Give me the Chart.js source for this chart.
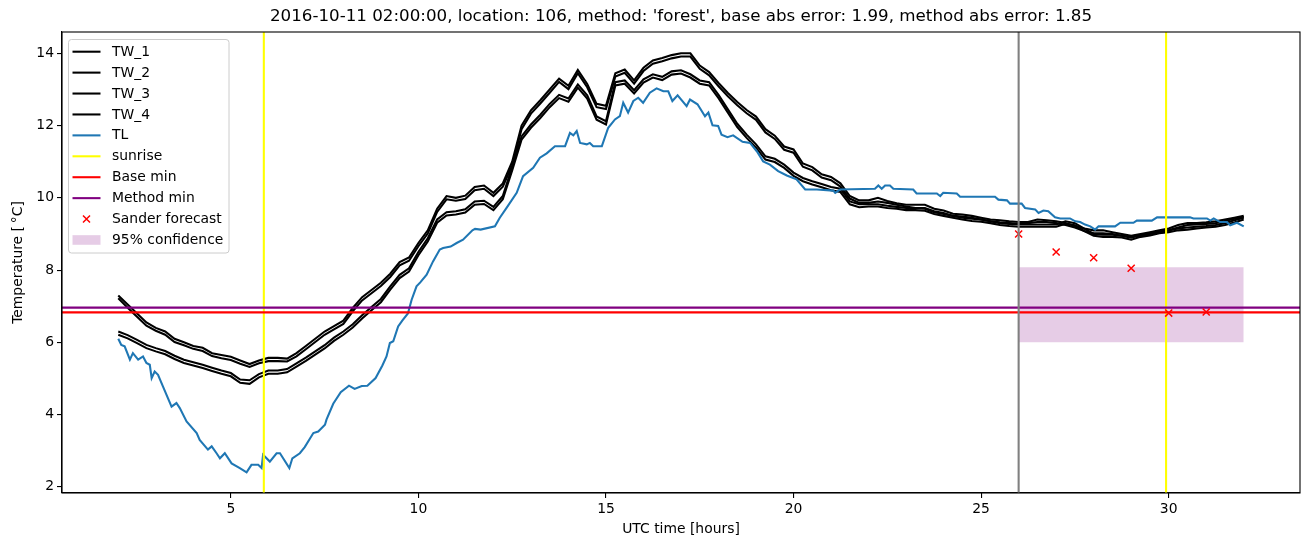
<!DOCTYPE html>
<html>
<head>
<meta charset="utf-8">
<script src="https://cdn.jsdelivr.net/npm/chart.js@4.4.1/dist/chart.umd.min.js"></script>
<style>
  html, body { margin: 0; padding: 0; background: #fff; }
  #wrap { width: 1310px; height: 547px; }
</style>
</head>
<body>
<div id="wrap"><canvas id="chart" width="1310" height="547"></canvas></div>
<script>
"use strict";

// water temperatures sampled every 15 minutes, from 2 h to 32 h UTC
var HOUR_START = 2;
var HOUR_STEP = 0.25;

// air temperature, read point by point off the wiggles
var TL_HOURS = [
  2.00, 2.08, 2.17, 2.31, 2.39, 2.53, 2.66, 2.75, 2.84, 2.89, 2.97, 3.06,
  3.19, 3.42, 3.55, 3.64, 3.82, 4.09, 4.17, 4.39, 4.49, 4.62, 4.71, 4.84,
  5.02, 5.24, 5.42, 5.55, 5.73, 5.82, 5.86, 6.04, 6.22, 6.31, 6.56, 6.64,
  6.84, 6.97, 7.20, 7.33, 7.51, 7.55, 7.73, 7.93, 8.15, 8.30, 8.49, 8.64,
  8.86, 9.04, 9.15, 9.24, 9.33, 9.46, 9.57, 9.72, 9.82, 9.95, 10.05, 10.22,
  10.39, 10.57, 10.66, 10.86, 11.02, 11.19, 11.44, 11.51, 11.66, 12.04, 12.17, 12.35,
  12.62, 12.79, 13.06, 13.24, 13.42, 13.64, 13.91, 14.04, 14.13, 14.22, 14.31, 14.49,
  14.57, 14.66, 14.89, 15.06, 15.24, 15.37, 15.46, 15.59, 15.73, 15.86, 15.99, 16.17,
  16.35, 16.53, 16.66, 16.77, 16.91, 17.15, 17.24, 17.44, 17.64, 17.73, 17.84, 17.99,
  18.08, 18.24, 18.39, 18.64, 18.84, 19.02, 19.19, 19.37, 19.59, 19.82, 20.08, 20.31,
  20.62, 21.06, 21.11, 21.24, 22.17, 22.26, 22.35, 22.44, 22.57, 22.66, 23.19, 23.28,
  23.82, 23.91, 23.99, 24.35, 24.44, 25.37, 25.46, 25.69, 25.77, 26.08, 26.17, 26.44,
  26.53, 26.66, 26.79, 26.97, 27.11, 27.37, 27.51, 27.64, 27.77, 27.91, 28.04, 28.13,
  28.57, 28.71, 29.06, 29.15, 29.55, 29.69, 30.57, 30.66, 31.02, 31.11, 31.20, 31.37,
  31.55, 31.64, 31.82, 32.00
];
var TL_TEMPS = [
  6.10, 5.93, 5.89, 5.52, 5.70, 5.52, 5.61, 5.43, 5.38, 5.01, 5.19, 5.10,
  4.78, 4.22, 4.32, 4.18, 3.81, 3.49, 3.30, 3.03, 3.12, 2.93, 2.79, 2.93,
  2.65, 2.52, 2.40, 2.61, 2.61, 2.52, 2.89, 2.70, 2.93, 2.93, 2.52, 2.79,
  2.93, 3.10, 3.49, 3.53, 3.72, 3.86, 4.30, 4.62, 4.80, 4.71, 4.79, 4.80,
  5.01, 5.36, 5.61, 5.98, 6.03, 6.44, 6.60, 6.80, 7.18, 7.55, 7.66, 7.87,
  8.24, 8.57, 8.61, 8.65, 8.75, 8.84, 9.10, 9.14, 9.12, 9.21, 9.45, 9.72,
  10.14, 10.60, 10.83, 11.11, 11.23, 11.43, 11.43, 11.80, 11.73, 11.85, 11.52, 11.48,
  11.52, 11.43, 11.43, 11.94, 12.17, 12.26, 12.63, 12.36, 12.68, 12.77, 12.63, 12.91,
  13.03, 12.95, 12.95, 12.68, 12.84, 12.54, 12.72, 12.59, 12.26, 12.36, 12.01, 11.99,
  11.75, 11.68, 11.73, 11.55, 11.52, 11.29, 11.01, 10.92, 10.74, 10.62, 10.51, 10.23,
  10.23, 10.20, 10.14, 10.23, 10.25, 10.34, 10.25, 10.34, 10.34, 10.25, 10.23, 10.12,
  10.12, 10.05, 10.14, 10.12, 10.03, 10.03, 9.95, 9.93, 9.84, 9.84, 9.72, 9.68,
  9.58, 9.65, 9.63, 9.46, 9.43, 9.43, 9.35, 9.33, 9.26, 9.21, 9.12, 9.21,
  9.21, 9.31, 9.31, 9.37, 9.37, 9.46, 9.46, 9.43, 9.43, 9.37, 9.43, 9.33,
  9.33, 9.24, 9.31, 9.21
];

var TW_1 = [
  7.30, 7.05, 6.80, 6.55, 6.40, 6.30, 6.10, 6.00,
  5.90, 5.85, 5.70, 5.65, 5.60, 5.50, 5.40, 5.50,
  5.57, 5.57, 5.55, 5.70, 5.90, 6.10, 6.30, 6.45,
  6.60, 6.95, 7.25, 7.45, 7.65, 7.90, 8.22, 8.35,
  8.75, 9.10, 9.70, 10.05, 10.00, 10.06, 10.30, 10.34,
  10.14, 10.40, 11.00, 12.00, 12.42, 12.70, 13.00, 13.30,
  13.10, 13.54, 13.15, 12.60, 12.55, 13.45, 13.55, 13.25,
  13.60, 13.80, 13.87, 13.95, 14.00, 14.00, 13.66, 13.48,
  13.18, 12.90, 12.65, 12.43, 12.25, 11.90, 11.72, 11.42,
  11.34, 10.95, 10.85, 10.65, 10.58, 10.40, 10.05, 9.93,
  9.93, 10.00, 9.91, 9.85, 9.81, 9.81, 9.81, 9.70,
  9.65, 9.56, 9.54, 9.50, 9.45, 9.40, 9.38, 9.35,
  9.33, 9.33, 9.40, 9.38, 9.35, 9.30, 9.22, 9.15,
  9.10, 9.10, 9.05, 9.00, 8.95, 9.00, 9.05, 9.10,
  9.15, 9.25, 9.30, 9.30, 9.32, 9.35, 9.40, 9.45,
  9.50
];

var TW_2 = [
  7.22, 6.96, 6.71, 6.46, 6.32, 6.21, 6.01, 5.92,
  5.82, 5.76, 5.62, 5.56, 5.51, 5.41, 5.32, 5.42,
  5.48, 5.48, 5.47, 5.61, 5.81, 6.01, 6.21, 6.36,
  6.51, 6.86, 7.16, 7.36, 7.56, 7.81, 8.13, 8.26,
  8.66, 9.01, 9.61, 9.96, 9.92, 9.97, 10.21, 10.25,
  10.05, 10.31, 10.90, 11.90, 12.33, 12.61, 12.91, 13.21,
  13.01, 13.45, 13.06, 12.51, 12.46, 13.36, 13.46, 13.16,
  13.51, 13.71, 13.78, 13.86, 13.91, 13.91, 13.57, 13.39,
  13.09, 12.81, 12.56, 12.34, 12.16, 11.81, 11.63, 11.33,
  11.25, 10.86, 10.76, 10.56, 10.49, 10.31, 9.98, 9.86,
  9.86, 9.90, 9.86, 9.81, 9.76, 9.72, 9.72, 9.63,
  9.58, 9.50, 9.48, 9.45, 9.40, 9.35, 9.32, 9.30,
  9.28, 9.30, 9.33, 9.33, 9.30, 9.25, 9.18, 9.08,
  9.02, 9.02, 9.00, 8.95, 8.92, 8.95, 9.00, 9.05,
  9.10, 9.18, 9.25, 9.26, 9.28, 9.30, 9.36, 9.42,
  9.47
];

var TW_3 = [
  6.30, 6.20, 6.07, 5.93, 5.84, 5.76, 5.63, 5.52,
  5.45, 5.38, 5.30, 5.22, 5.15, 4.97, 4.95, 5.12,
  5.22, 5.22, 5.26, 5.42, 5.58, 5.75, 5.92, 6.13,
  6.30, 6.50, 6.75, 6.98, 7.20, 7.55, 7.87, 8.05,
  8.50, 8.88, 9.40, 9.60, 9.63, 9.68, 9.90, 9.92,
  9.75, 10.05, 10.85, 11.70, 12.03, 12.30, 12.60, 12.85,
  12.75, 13.14, 12.84, 12.25, 12.12, 13.20, 13.25, 12.98,
  13.28, 13.42, 13.35, 13.50, 13.53, 13.42, 13.25, 13.20,
  12.85, 12.45, 12.05, 11.75, 11.48, 11.15, 11.08, 10.92,
  10.70, 10.55, 10.46, 10.38, 10.30, 10.25, 9.90, 9.82,
  9.82, 9.82, 9.78, 9.75, 9.72, 9.72, 9.70, 9.60,
  9.55, 9.50, 9.45, 9.42, 9.40, 9.35, 9.30, 9.28,
  9.26, 9.26, 9.26, 9.26, 9.26, 9.35, 9.30, 9.15,
  9.00, 8.98, 8.98, 8.95, 8.90, 8.98, 9.02, 9.08,
  9.10, 9.15, 9.18, 9.20, 9.22, 9.25, 9.30, 9.38,
  9.45
];

var TW_4 = [
  6.21, 6.11, 5.98, 5.84, 5.75, 5.67, 5.54, 5.43,
  5.36, 5.29, 5.21, 5.13, 5.06, 4.88, 4.85, 5.03,
  5.13, 5.13, 5.17, 5.33, 5.49, 5.66, 5.83, 6.04,
  6.21, 6.41, 6.66, 6.89, 7.11, 7.46, 7.78, 7.96,
  8.41, 8.79, 9.31, 9.51, 9.54, 9.59, 9.81, 9.83,
  9.66, 9.96, 10.76, 11.61, 11.94, 12.21, 12.51, 12.76,
  12.66, 13.05, 12.75, 12.16, 12.03, 13.11, 13.16, 12.89,
  13.19, 13.33, 13.26, 13.41, 13.44, 13.33, 13.16, 13.11,
  12.76, 12.36, 11.96, 11.66, 11.39, 11.06, 10.99, 10.83,
  10.61, 10.46, 10.37, 10.29, 10.21, 10.16, 9.82, 9.74,
  9.76, 9.76, 9.72, 9.70, 9.66, 9.66, 9.64, 9.55,
  9.50, 9.45, 9.40, 9.36, 9.34, 9.30, 9.25, 9.22,
  9.20, 9.20, 9.20, 9.20, 9.20, 9.28, 9.24, 9.08,
  8.95, 8.92, 8.92, 8.90, 8.84, 8.92, 8.96, 9.02,
  9.05, 9.10, 9.12, 9.15, 9.18, 9.20, 9.25, 9.32,
  9.40
];

var SUNRISE = [5.88, 29.93];
var BASE_MIN = 6.83;
var METHOD_MIN = 6.96;
var FORECAST_START = 26;

var SANDER_HOURS = [26, 27, 28, 29, 30, 31];
var SANDER_TEMPS = [9.00, 8.50, 8.34, 8.05, 6.81, 6.84];

var CONF_HOURS = [26, 32];
var CONF_LOW = 6.00;
var CONF_HIGH = 8.08;

var X_TICKS = [5, 10, 15, 20, 25, 30];
var Y_TICKS = [2, 4, 6, 8, 10, 12, 14];
var X_MIN = 0.5, X_MAX = 33.5;
var Y_MIN = 1.83, Y_MAX = 14.59;

var TITLE = "2016-10-11 02:00:00, location: 106, method: 'forest', base abs error: 1.99, method abs error: 1.85";
var X_LABEL = "UTC time [hours]";
var Y_LABEL = "Temperature [\u2009\u00b0C]";

var FONT = "'DejaVu Sans', 'Liberation Sans', sans-serif";
var LW = 2.08;   // 1.5 pt at 100 dpi

function toPoints(values) {
    return values.map(function (v, i) {
        return { x: HOUR_START + i * HOUR_STEP, y: v };
    });
}

function pairPoints(xs, ys) {
    return xs.map(function (x, i) { return { x: x, y: ys[i] }; });
}

function lineSet(label, data, color, order, legend) {
    return {
        label: label,
        data: data,
        borderColor: color,
        backgroundColor: color,
        borderWidth: LW,
        pointRadius: 0,
        tension: 0,
        fill: false,
        order: order,
        legendKind: legend ? 'line' : null
    };
}

var datasets = [];

datasets.push(lineSet('TW_1', toPoints(TW_1), '#000000', 20, true));
datasets.push(lineSet('TW_2', toPoints(TW_2), '#000000', 19, true));
datasets.push(lineSet('TW_3', toPoints(TW_3), '#000000', 18, true));
datasets.push(lineSet('TW_4', toPoints(TW_4), '#000000', 17, true));
datasets.push(lineSet('TL', pairPoints(TL_HOURS, TL_TEMPS), '#1f77b4', 16, true));

SUNRISE.forEach(function (h, i) {
    datasets.push(lineSet(i === 0 ? 'sunrise' : '_sunrise', [{ x: h, y: Y_MIN }, { x: h, y: Y_MAX }], '#ffff00', 15, i === 0));
});

datasets.push(lineSet('Base min', [{ x: X_MIN, y: BASE_MIN }, { x: X_MAX, y: BASE_MIN }], '#ff0000', 14, true));
datasets.push(lineSet('Method min', [{ x: X_MIN, y: METHOD_MIN }, { x: X_MAX, y: METHOD_MIN }], '#800080', 13, true));

datasets.push({
    label: 'Sander forecast',
    data: pairPoints(SANDER_HOURS, SANDER_TEMPS),
    showLine: false,
    pointStyle: 'crossRot',
    pointRadius: 5,
    pointBorderWidth: 1.5,
    borderColor: '#ff0000',
    backgroundColor: '#ff0000',
    order: 12,
    legendKind: 'marker'
});

datasets.push(lineSet('_forecast_start', [{ x: FORECAST_START, y: Y_MIN }, { x: FORECAST_START, y: Y_MAX }], '#808080', 11, false));

// confidence band: lower edge, then upper edge filled down to it
datasets.push({
    label: '_conf_low',
    data: CONF_HOURS.map(function (h) { return { x: h, y: CONF_LOW }; }),
    borderWidth: 0, pointRadius: 0, fill: false, order: 50, legendKind: null
});
datasets.push({
    label: '95% confidence',
    data: CONF_HOURS.map(function (h) { return { x: h, y: CONF_HIGH }; }),
    borderWidth: 0, pointRadius: 0, fill: '-1',
    backgroundColor: 'rgba(128, 0, 128, 0.2)',
    borderColor: 'rgba(128, 0, 128, 0.2)',
    order: 49, legendKind: 'patch'
});

// matplotlib-like frame, titles and legend box
var decorPlugin = {
    id: 'decor',
    beforeDraw: function (chart) {
        var ctx = chart.ctx;
        ctx.save();
        ctx.fillStyle = '#ffffff';
        ctx.fillRect(0, 0, chart.width, chart.height);
        ctx.restore();
    },
    afterDraw: function (chart) {
        var ctx = chart.ctx;
        var a = chart.chartArea;
        ctx.save();

        ctx.strokeStyle = '#000000';
        ctx.lineWidth = 1.1;
        ctx.strokeRect(a.left, a.top, a.right - a.left, a.bottom - a.top);

        var cx = (a.left + a.right) / 2;
        ctx.fillStyle = '#000000';
        ctx.textAlign = 'center';
        ctx.textBaseline = 'middle';
        ctx.font = '16.7px ' + FONT;
        ctx.fillText(TITLE, cx, 17);

        ctx.font = '13.9px ' + FONT;
        ctx.fillText(X_LABEL, cx, 529);

        ctx.save();
        ctx.translate(18, (a.top + a.bottom) / 2);
        ctx.rotate(-Math.PI / 2);
        ctx.fillText(Y_LABEL, 0, 0);
        ctx.restore();

        // legend
        var items = chart.data.datasets.filter(function (d) { return d.legendKind; });
        var bx = 68.5, by = 39.5, bw = 160.5, bh = 213.5, r = 3;
        ctx.beginPath();
        ctx.moveTo(bx + r, by);
        ctx.arcTo(bx + bw, by, bx + bw, by + bh, r);
        ctx.arcTo(bx + bw, by + bh, bx, by + bh, r);
        ctx.arcTo(bx, by + bh, bx, by, r);
        ctx.arcTo(bx, by, bx + bw, by, r);
        ctx.closePath();
        ctx.fillStyle = 'rgba(255,255,255,0.8)';
        ctx.fill();
        ctx.strokeStyle = '#cccccc';
        ctx.lineWidth = 1;
        ctx.stroke();

        ctx.font = '13.9px ' + FONT;
        ctx.textAlign = 'left';
        items.forEach(function (d, i) {
            var y = 51.7 + i * 20.92;
            var x0 = 72.5, x1 = 100.5;
            if (d.legendKind === 'line') {
                ctx.strokeStyle = d.borderColor;
                ctx.lineWidth = LW;
                ctx.beginPath();
                ctx.moveTo(x0, y);
                ctx.lineTo(x1, y);
                ctx.stroke();
            } else if (d.legendKind === 'marker') {
                var mx = (x0 + x1) / 2, s = 3.5;
                ctx.strokeStyle = d.borderColor;
                ctx.lineWidth = 1.5;
                ctx.beginPath();
                ctx.moveTo(mx - s, y - s); ctx.lineTo(mx + s, y + s);
                ctx.moveTo(mx - s, y + s); ctx.lineTo(mx + s, y - s);
                ctx.stroke();
            } else if (d.legendKind === 'patch') {
                ctx.fillStyle = d.backgroundColor;
                ctx.fillRect(x0, y - 4.8, x1 - x0, 9.6);
            }
            ctx.fillStyle = '#000000';
            ctx.fillText(d.label, 112, y + 0.5);
        });

        ctx.restore();
    }
};

var ctx = document.getElementById('chart').getContext('2d');

new Chart(ctx, {
    type: 'line',
    data: { datasets: datasets },
    plugins: [decorPlugin],
    options: {
        responsive: false,
        maintainAspectRatio: false,
        animation: false,
        devicePixelRatio: 1,
        layout: { padding: { top: 32, right: 10, left: 0, bottom: 0 } },
        plugins: {
            legend: { display: false },
            title: { display: false },
            tooltip: { enabled: false },
            filler: { propagate: false }
        },
        scales: {
            x: {
                type: 'linear',
                position: 'bottom',
                min: X_MIN,
                max: X_MAX,
                afterBuildTicks: function (scale) {
                    scale.ticks = X_TICKS.map(function (v) { return { value: v }; });
                },
                afterFit: function (scale) { scale.height = 54; },
                ticks: {
                    autoSkip: false,
                    maxRotation: 0,
                    padding: 3,
                    color: '#000000',
                    font: { family: FONT, size: 13.9 }
                },
                grid: { display: true, drawOnChartArea: false, drawTicks: true, tickLength: 5, lineWidth: 1.1, color: '#000000' },
                border: { display: true, color: '#000000', width: 1.1 }
            },
            y: {
                type: 'linear',
                position: 'left',
                min: Y_MIN,
                max: Y_MAX,
                afterBuildTicks: function (scale) {
                    scale.ticks = Y_TICKS.map(function (v) { return { value: v }; });
                },
                afterFit: function (scale) { scale.width = 62; },
                ticks: {
                    autoSkip: false,
                    padding: 3,
                    color: '#000000',
                    font: { family: FONT, size: 13.9 }
                },
                grid: { display: true, drawOnChartArea: false, drawTicks: true, tickLength: 5, lineWidth: 1.1, color: '#000000' },
                border: { display: true, color: '#000000', width: 1.1 }
            }
        }
    }
});
</script>
</body>
</html>
